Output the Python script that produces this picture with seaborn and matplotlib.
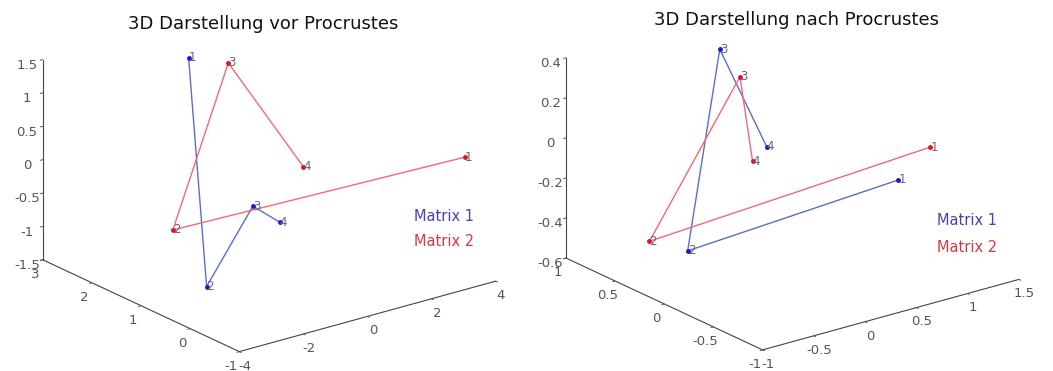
import matplotlib
matplotlib.use("Agg")
import matplotlib.pyplot as plt
import seaborn as sns

# ---------------- Data ----------------

point_labels = ["1", "2", "3", "4"]

# before Procrustes
vor_m1_x = [-0.98, -2.72, -0.51, 0.33]
vor_m1_y = [2.0, 0.5, 1.0, 1.0]
vor_m1_z = [1.47, -1.21, -0.47, -0.82]
vor_m2_x = [3.2, -2.24, 0.26, 1.07]
vor_m2_y = [-0.9, 1.5, 2.0, 1.0]
vor_m2_z = [0.43, -0.77, 1.23, -0.09]

# after Procrustes
nach_m1_x = [0.805, -0.58, 0.117, 0.286]
nach_m1_y = [-0.5, 0.2, 0.6, 0.3]
nach_m1_z = [-0.12, -0.44, 0.377, -0.064]
nach_m2_x = [1.117, -0.665, 0.314, 0.245]
nach_m2_y = [-0.5, 0.5, 0.6, 0.4]
nach_m2_z = [0.0, -0.449, 0.212, -0.155]

vor_xticks = [-4, -2, 0, 2, 4]
vor_yticks = [-1, 0, 1, 2, 3]
vor_zticks = [-1.5, -1, -0.5, 0, 0.5, 1, 1.5]
nach_xticks = [-1, -0.5, 0, 0.5, 1, 1.5]
nach_yticks = [-1, -0.5, 0, 0.5, 1]
nach_zticks = [-0.6, -0.4, -0.2, 0, 0.2, 0.4]

series_names = ["Matrix 1", "Matrix 2"]
line_colors = ["#5a6fc4", "#ee6a78"]
dot_colors = ["#1a1ad0", "#e0102a"]
text_colors = ["#4a3fb0", "#d23a44"]

# ---------------- Style ----------------

sns.set_style("white")
plt.rcParams['font.family'] = ['DejaVu Sans']


def setup_axes(ax, xt, yt, zt):
    ax.set_proj_type('ortho')
    ax.view_init(elev=21, azim=-127.5)
    ax.set_box_aspect((1, 1, 0.664), zoom=1.42)
    ax.set_xlim(xt[0], xt[-1])
    ax.set_ylim(yt[0], yt[-1])
    ax.set_zlim(zt[0], zt[-1])
    ax.set_xticks(xt)
    ax.set_yticks(yt)
    ax.set_zticks(zt)
    ax.set_xticklabels([f"{v:g}" for v in xt])
    ax.set_yticklabels([f"{v:g}" for v in yt])
    ax.set_zticklabels([f"{v:g}" for v in zt])
    ax.grid(False)
    for axis, pad in ((ax.xaxis, -4.5), (ax.yaxis, -4.0), (ax.zaxis, -3.5)):
        axis.pane.set_visible(False)
        axis.label.set_visible(False)
        axis.offsetText.set_visible(False)
        axis.line.set_color('#444444')
        axis.line.set_linewidth(0.8)
        axis.set_tick_params(labelsize=9.5, colors='#555555', pad=pad)
        axis._axinfo['tick']['inward_factor'] = 0.12
        axis._axinfo['tick']['outward_factor'] = 0.0
        axis._axinfo['tick']['linewidth'] = {True: 0.7, False: 0.5}
        axis._axinfo['tick']['color'] = '#444444'


def draw_panel(ax, m1, m2):
    for (xs, ys, zs), lc, dc in zip([m1, m2], line_colors, dot_colors):
        ax.plot(xs, ys, zs, color=lc, linewidth=1.0, clip_on=False)
        ax.plot(xs, ys, zs, linestyle='none', marker='o', markersize=2.5,
                color=dc, clip_on=False)
        for x, y, z, lab in zip(xs, ys, zs, point_labels):
            ax.text(x, y, z, lab, fontsize=8.5, color='#666666',
                    ha='left', va='center', clip_on=False)


fig = plt.figure(figsize=(10.53, 3.71), dpi=100)

ax1 = fig.add_axes([0.0012, 0.0633, 0.5, 0.93], projection='3d')
setup_axes(ax1, vor_xticks, vor_yticks, vor_zticks)
draw_panel(ax1, (vor_m1_x, vor_m1_y, vor_m1_z), (vor_m2_x, vor_m2_y, vor_m2_z))

ax2 = fig.add_axes([0.4981, 0.068, 0.5, 0.93], projection='3d')
setup_axes(ax2, nach_xticks, nach_yticks, nach_zticks)
draw_panel(ax2, (nach_m1_x, nach_m1_y, nach_m1_z),
           (nach_m2_x, nach_m2_y, nach_m2_z))

fig.text(263 / 1053, 1 - 24 / 371, "3D Darstellung vor Procrustes",
         ha='center', va='center', fontsize=13, color='#111111')
fig.text(797 / 1053, 1 - 20 / 371, "3D Darstellung nach Procrustes",
         ha='center', va='center', fontsize=13, color='#111111')

for i, (name, col) in enumerate(zip(series_names, text_colors)):
    fig.text(444 / 1053, 1 - (216 + 25 * i) / 371, name, ha='center',
             va='center', fontsize=10.5, color=col)
    fig.text(967 / 1053, 1 - (221 + 26 * i) / 371, name, ha='center',
             va='center', fontsize=10.5, color=col)

plt.savefig('out.png', dpi=100)
